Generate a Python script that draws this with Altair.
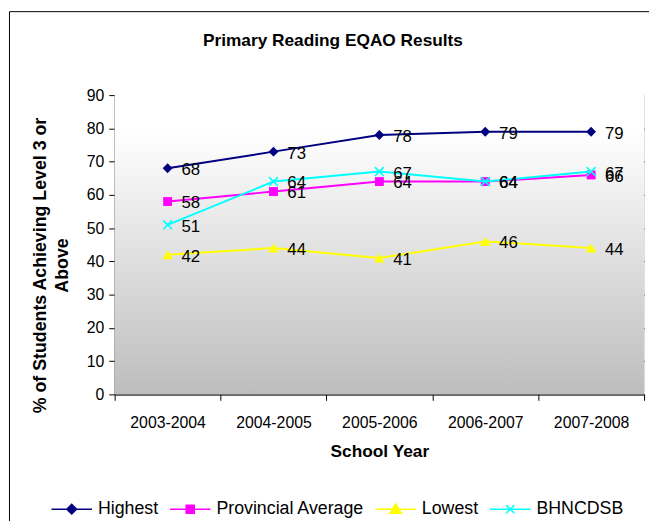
import altair as alt
import pandas as pd

years = ["2003-2004", "2004-2005", "2005-2006", "2006-2007", "2007-2008"]
series_names = ["Highest", "Provincial Average", "Lowest", "BHNCDSB"]
highest = [68, 73, 78, 79, 79]
provincial = [58, 61, 64, 64, 66]
lowest = [42, 44, 41, 46, 44]
bhncdsb = [51, 64, 67, 64, 67]
colors = ["#000080", "#FF00FF", "#FFFF00", "#00FFFF"]
y_ticks = [0, 10, 20, 30, 40, 50, 60, 70, 80, 90]
chart_title = "Primary Reading EQAO Results"

values_by_series = [highest, provincial, lowest, bhncdsb]
rows = []
for name, vals in zip(series_names, values_by_series):
    for yr, v in zip(years, vals):
        rows.append({"series": name, "year": yr, "value": v})
df = pd.DataFrame(rows)

FONT = "Liberation Sans"
W, H = 536, 303

x_enc = alt.X(
    "year:N",
    sort=years,
    scale=alt.Scale(domain=years, paddingInner=0, paddingOuter=0),
    axis=alt.Axis(
        title="School Year",
        titleFont=FONT, titleFontSize=17.5, titleFontWeight="bold", titleColor="black",
        titlePadding=12,
        labelFont=FONT, labelFontSize=16, labelColor="black", labelAngle=0, labelPadding=15,
        tickBand="extent", tickSize=6, tickColor="black", domainColor="black",
        grid=False,
    ),
)
y_enc = alt.Y(
    "value:Q",
    scale=alt.Scale(domain=[0, 90], nice=False, zero=True),
    axis=alt.Axis(
        values=y_ticks,
        title=["% of Students Achieving Level 3 or", "Above"],
        titleFont=FONT, titleFontSize=18, titleFontWeight="bold", titleColor="black",
        titleX=-75, titleY=172, titleAlign="center", titleBaseline="middle", titleAngle=-90,
        titleLineHeight=22,
        labelFont=FONT, labelFontSize=16, labelColor="black", labelPadding=5,
        tickSize=6, tickColor="black", domainColor="black",
        grid=True,
        gridColor={"condition": {"test": "datum.value === 90", "value": "#d9d9d9"}, "value": "#1a1a1a"},
        gridWidth=1,
    ),
)

one = pd.DataFrame({"k": [0]})
title_df = pd.DataFrame({"t": [chart_title]})

bg = alt.Chart(one).mark_rect(
    fill=alt.LinearGradient(
        gradient="linear", x1=0, x2=0, y1=0, y2=1,
        stops=[
            alt.GradientStop(offset=0, color="#ffffff"),
            alt.GradientStop(offset=0.12, color="#ffffff"),
            alt.GradientStop(offset=1, color="#bdbdbd"),
        ],
    )
).encode(x=alt.value(0), x2=alt.value(W), y=alt.value(0), y2=alt.value(H))

marker_shapes = ["diamond", "square", "triangle-up", "M-1,-1L1,1M-1,1L1,-1"]
marker_sizes = [100, 81, 110, 81]
marker_filled = [True, True, True, False]

layers = [bg]
for name, col, shp, sz, fl in zip(series_names, colors, marker_shapes, marker_sizes, marker_filled):
    base = alt.Chart(df).transform_filter(alt.datum.series == name)
    line = base.mark_line(color=col, strokeWidth=2).encode(x=x_enc, y=y_enc)
    if fl:
        pts = base.mark_point(shape=shp, size=sz, filled=True, color=col, opacity=1).encode(x=x_enc, y=y_enc)
    else:
        pts = base.mark_point(shape=shp, size=sz, filled=False, stroke=col, strokeWidth=1.6, opacity=1).encode(x=x_enc, y=y_enc)
    layers += [line, pts]

labels = alt.Chart(df).mark_text(
    align="left", baseline="middle", dx=14, dy=2, font=FONT, fontSize=17, color="black"
).encode(x=x_enc, y=y_enc, text="value:Q")
layers.append(labels)

legend_paths = [
    "M-1,0L1,0M0,-0.24L0.24,0L0,0.24L-0.24,0Z",
    "M-1,0L1,0M-0.2,-0.2L0.2,-0.2L0.2,0.2L-0.2,0.2Z",
    "M-1,0L1,0M0,-0.26L0.28,0.2L-0.28,0.2Z",
    "M-1,0L1,0M-0.2,-0.2L0.2,0.2M-0.2,0.2L0.2,-0.2",
]
leg = alt.Legend(
    title=None, orient="none", legendX=-65, legendY=397.5, direction="horizontal",
    labelFont=FONT, labelFontSize=18, labelColor="black", labelOffset=5,
    columnPadding=8, symbolSize=1681, symbolOpacity=1, symbolStrokeWidth=1.5, padding=0,
)
legend_layer = alt.Chart(df).mark_point(filled=True, opacity=0, size=1681, strokeWidth=1.5).encode(
    x=x_enc, y=y_enc,
    shape=alt.Shape("series:N", scale=alt.Scale(domain=series_names, range=legend_paths), legend=leg),
    fill=alt.Fill("series:N", scale=alt.Scale(domain=series_names, range=colors), legend=leg),
    stroke=alt.Stroke("series:N", scale=alt.Scale(domain=series_names, range=colors), legend=leg),
)
layers.append(legend_layer)

title_layer = alt.Chart(title_df).mark_text(
    font=FONT, fontSize=17.5, fontWeight="bold", color="black", align="center", baseline="alphabetic"
).encode(x=alt.value(221), y=alt.value(-50), text="t:N")
layers.append(title_layer)

frame_top = alt.Chart(one).mark_rule(color="black", strokeWidth=1).encode(
    x=alt.value(-106.5), x2=alt.value(600), y=alt.value(-84.5)
)
frame_left = alt.Chart(one).mark_rule(color="black", strokeWidth=1).encode(
    x=alt.value(-106.5), y=alt.value(-84.5), y2=alt.value(440)
)
layers += [frame_top, frame_left]

chart = alt.layer(*layers).properties(
    width=W, height=H,
    autosize=alt.AutoSizeParams(type="none"),
    padding={"left": 108, "top": 85, "right": 5, "bottom": 125},
).configure_view(stroke=None).configure(background="white")

chart.save("out.html", embed_options={"renderer": "svg", "actions": False})
